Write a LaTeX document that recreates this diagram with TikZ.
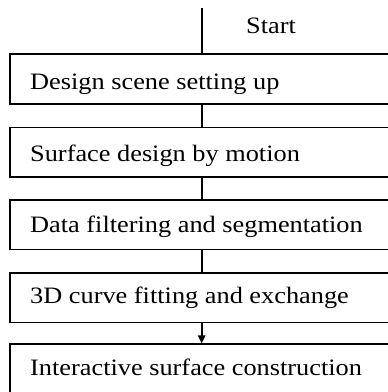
\documentclass[tikz,border=0pt]{standalone}
\usepackage{fontspec}
\setmainfont{Liberation Serif}[FakeStretch=1.12]
\usetikzlibrary{arrows.meta}
\begin{document}
\begin{tikzpicture}[x=1pt,y=-1pt,
  stepbox/.style={draw=black,line width=1.6pt,rectangle,minimum width=420pt,anchor=north west,inner sep=0pt},
  lbl/.style={anchor=base west,inner sep=0pt,font=\fontsize{23.5}{28}\selectfont},
  conn/.style={draw=black,line width=1.6pt},
  arr/.style={conn,-{Triangle[length=8pt,width=7.5pt]}}]
\useasboundingbox (0,0) rectangle (388,392);
\clip (0,0) rectangle (388,392);
\coordinate (top) at (201.7,8);
\node[stepbox,minimum height=50pt] (b1) at (9,53.3) {};
\node[stepbox,minimum height=49.5pt] (b2) at (9,126.7) {};
\node[stepbox,minimum height=49.5pt] (b3) at (9,199) {};
\node[stepbox,minimum height=49.5pt] (b4) at (9,272) {};
\node[stepbox,minimum height=80pt] (b5) at (9,343.3) {};
\node[lbl] (start) at (246,33.3) {Start};
\node[lbl] (t1) at (30,89.5) {Design scene setting up};
\node[lbl] (t2) at (30,161) {Surface design by motion};
\node[lbl] (t3) at (30,232) {Data filtering and segmentation};
\node[lbl] (t4) at (30,303.5) {3D curve fitting and exchange};
\node[lbl] (t5) at (30,375.5) {Interactive surface construction};
\draw[conn] (top) -- (top |- b1.north);
\draw[conn] (top |- b1.south) -- (top |- b2.north);
\draw[conn] (top |- b2.south) -- (top |- b3.north);
\draw[conn] (top |- b3.south) -- (top |- b4.north);
\draw[arr] (top |- b4.south) -- (top |- b5.north);
\end{tikzpicture}
\end{document}
